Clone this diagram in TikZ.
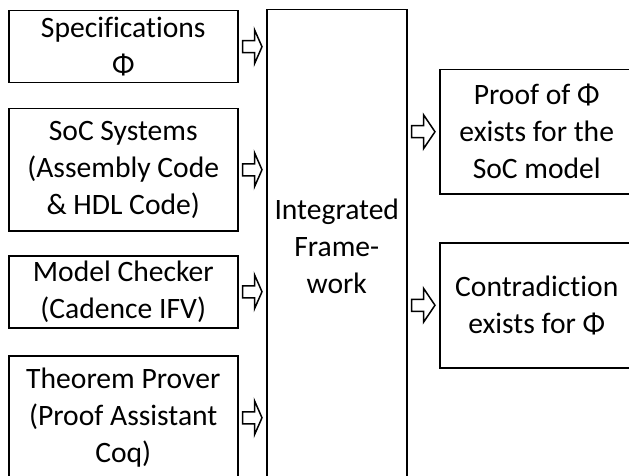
\documentclass[tikz,border=0pt]{standalone}
\usepackage{fontspec}
\setmainfont{Carlito}[Ligatures={NoCommon,NoRare}]
\usepackage{tikz}
\usetikzlibrary{calc}
\tikzstyle{blockbox} = [draw, line width=1.5pt, anchor=north west, align=center, inner sep=0pt, font=\fontsize{29.6}{37}\selectfont]
\tikzstyle{fat} = [draw, line width=1.5pt, line join=miter]
% hollow block arrow from box #1 to box #2, at the height of box #3
\newcommand{\fatarrow}[3]{%
	\draw[fat] ($(#1.east |- #3.center)+(4,6)$) -- ++(12,0) -- ++(0,11) -- ($(#2.west |- #3.center)+(-4,0)$) -- ($(#1.east |- #3.center)+(16,-17)$) -- ++(0,11) -- ++(-12,0) -- cycle;}

\begin{document}
\begin{tikzpicture}[x=1pt, y=-1pt]
		\useasboundingbox (0,0) rectangle (629,476);
		\coordinate (spec)   at (8,   10);
		\coordinate (soc)    at (8,   108);
		\coordinate (check)  at (8,   255);
		\coordinate (prover) at (8,   355);
		\coordinate (frame)  at (266, 9);
		\coordinate (proof)  at (439, 69);
		\coordinate (contra) at (439, 242);

		\node[blockbox, minimum width=229pt, minimum height=72pt]  (SPE) at (spec) {Specifications\\Φ};
		\node[blockbox, minimum width=229pt, minimum height=122pt] (SOC) at (soc) {SoC Systems\\(Assembly Code\\\& HDL Code)};
		\node[blockbox, minimum width=229pt, minimum height=72pt]  (MOD) at (check) {Model Checker\\(Cadence IFV)};
		\node[blockbox, minimum width=229pt, minimum height=124pt] (THE) at (prover) {Theorem Prover\\(Proof Assistant\\Coq)};
		\node[blockbox, minimum width=140pt, minimum height=473pt] (INT) at (frame) {Integrated\\Frame-\\work};
		\node[blockbox, minimum width=194pt, minimum height=124pt] (PRO) at (proof) {Proof of Φ\\exists for the\\SoC model};
		\node[blockbox, minimum width=194pt, minimum height=125pt] (CON) at (contra) {Contradiction\\exists for Φ};

		\fatarrow{SPE}{INT}{SPE}
		\fatarrow{SOC}{INT}{SOC}
		\fatarrow{MOD}{INT}{MOD}
		\fatarrow{THE}{INT}{THE}
		\fatarrow{INT}{PRO}{PRO}
		\fatarrow{INT}{CON}{CON}

	\end{tikzpicture}
\end{document}
